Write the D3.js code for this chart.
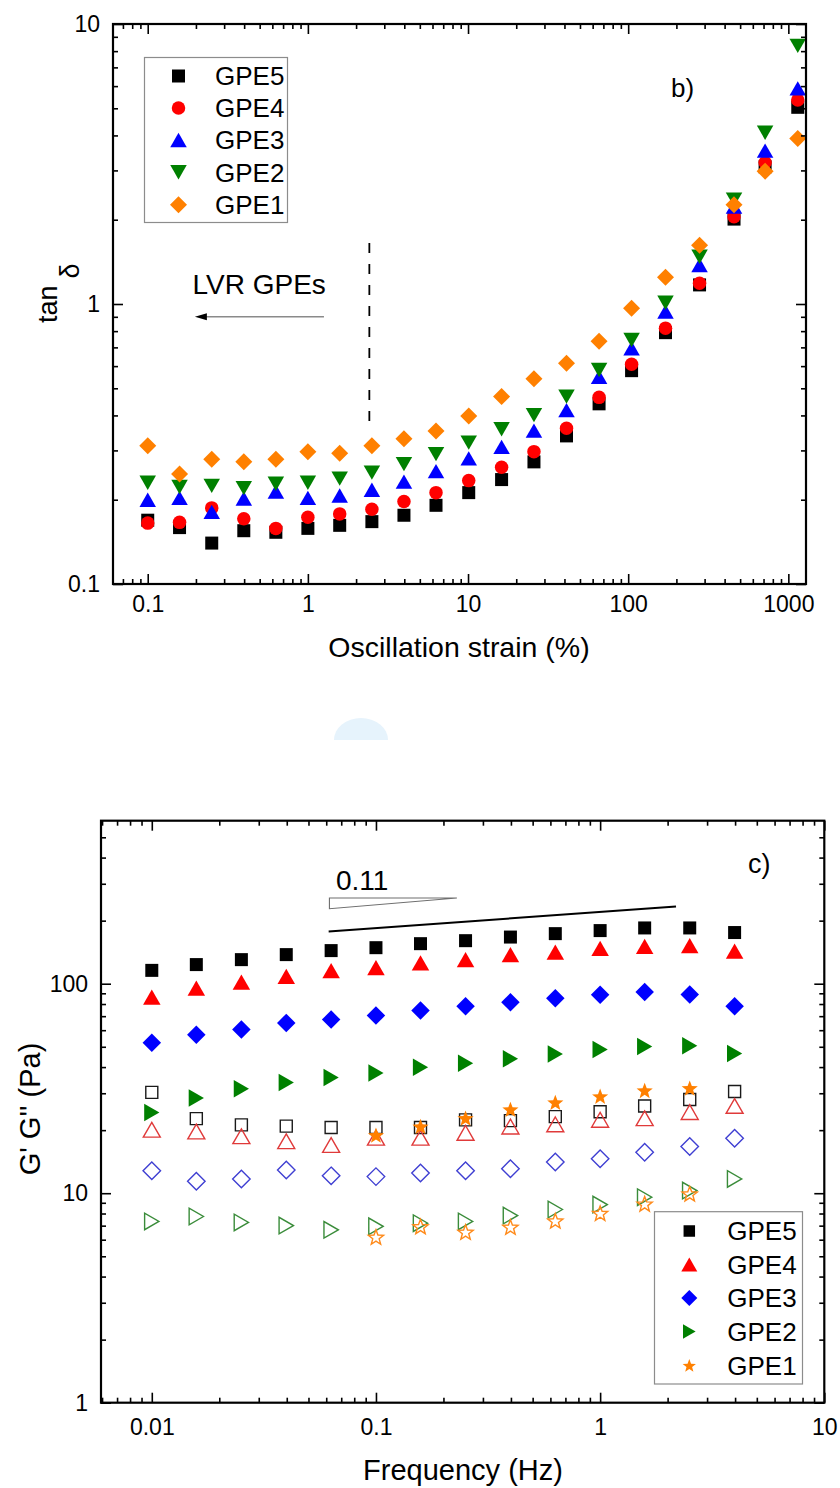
<!DOCTYPE html>
<html>
<head>
<meta charset="utf-8">
<script src="https://cdn.jsdelivr.net/npm/d3@7"></script>
<style>
  html, body { margin: 0; padding: 0; background: #fff; }
  svg { display: block; }
  text { font-family: "Liberation Sans", Arial, sans-serif; fill: #000; }
</style>
</head>
<body>
<svg id="chart" width="840" height="1488"></svg>
<script>
// ---------------- DATA ----------------
// Panel b) : tan(delta) vs oscillation strain (%)
const strain = [0.1, 0.158, 0.251, 0.398, 0.631, 1, 1.58, 2.51, 3.98, 6.31, 10.1, 16.2, 25.8, 41.2, 65.8, 105, 171, 279, 458, 716, 1145];
const tanGPE5 = [0.169, 0.159, 0.140, 0.155, 0.153, 0.158, 0.162, 0.167, 0.176, 0.191, 0.212, 0.236, 0.273, 0.338, 0.440, 0.578, 0.79, 1.17, 2.01, 3.09, 5.04];
const tanGPE4 = [0.165, 0.166, 0.187, 0.171, 0.158, 0.173, 0.178, 0.185, 0.197, 0.212, 0.234, 0.261, 0.297, 0.360, 0.464, 0.609, 0.82, 1.186, 2.05, 3.20, 5.35];
const tanGPE3 = [0.200, 0.203, 0.181, 0.202, 0.214, 0.203, 0.207, 0.217, 0.232, 0.253, 0.281, 0.309, 0.353, 0.418, 0.550, 0.695, 0.94, 1.378, 2.23, 3.53, 5.89];
const tanGPE2 = [0.230, 0.222, 0.224, 0.220, 0.228, 0.230, 0.238, 0.250, 0.268, 0.291, 0.320, 0.357, 0.401, 0.467, 0.581, 0.744, 1.01, 1.475, 2.36, 4.09, 8.35];
const tanGPE1 = [0.312, 0.247, 0.279, 0.273, 0.279, 0.297, 0.293, 0.312, 0.330, 0.352, 0.398, 0.467, 0.541, 0.614, 0.736, 0.965, 1.245, 1.62, 2.26, 2.98, 3.90];
const strainTicks = [0.1, 1, 10, 100, 1000];
const tanTicks = [0.1, 1, 10];
const lvrLine = [[2.42, 1.65], [2.42, 0.365]];   // dashed LVR limit
const lvrArrow = [[1.26, 0.90], [0.197, 0.90]];  // arrow "LVR GPEs"

// Panel c) : G' (filled) and G'' (open) vs frequency (Hz)
const freq = [0.01, 0.0158, 0.0251, 0.0398, 0.0631, 0.1, 0.158, 0.251, 0.398, 0.631, 1, 1.58, 2.51, 3.98];
const freqGPE1 = [0.1, 0.158, 0.251, 0.398, 0.631, 1, 1.58, 2.51];
const gPrimeGPE5 = [115.8, 123.4, 130.3, 137.7, 143.9, 148.6, 155.3, 160.5, 167, 173.4, 179.3, 184.6, 184.6, 175.5];
const gPrimeGPE4 = [86.3, 95.3, 101.8, 108.4, 115.4, 119.3, 125.6, 130.3, 137.7, 141.6, 147.5, 150.7, 152, 143.2];
const gPrimeGPE3 = [52.3, 57, 60.4, 65, 67.4, 70.5, 74.5, 78.1, 81.6, 85.3, 88.5, 91.2, 88.9, 78.1];
const gPrimeGPE2 = [24.3, 28.5, 31.5, 33.8, 35.7, 37.5, 39.9, 41.7, 43.8, 46.2, 48.5, 50.1, 50.5, 46.5];
const gPrimeGPE1 = [18.9, 20.8, 22.8, 25.1, 27.1, 29.0, 30.9, 31.7];
const gDoubleGPE5 = [30.3, 22.7, 21.2, 20.9, 20.6, 20.6, 20.6, 22.4, 22.2, 23.2, 24.5, 26.1, 28.0, 30.6];
const gDoubleGPE4 = [20.1, 19.7, 18.7, 17.7, 17.0, 18.4, 18.4, 19.4, 20.8, 21.3, 22.4, 22.8, 24.4, 26.1];
const gDoubleGPE3 = [12.8, 11.4, 11.7, 12.9, 12.1, 12.0, 12.5, 12.8, 13.1, 14.1, 14.6, 15.7, 16.7, 18.3];
const gDoubleGPE2 = [7.33, 7.74, 7.25, 7.01, 6.69, 6.95, 7.19, 7.33, 7.82, 8.36, 8.83, 9.57, 10.3, 11.7];
const gDoubleGPE1 = [6.17, 6.93, 6.52, 6.89, 7.38, 8.02, 8.89, 9.93];
const freqTicks = [0.01, 0.1, 1, 10];
const modTicks = [1, 10, 100];
const slopeLine = [[0.0615, 177.6], [2.18, 233.8]];
const slopeTriangle = [[0.062, 256.6], [0.062, 228], [0.2296, 256.6]];

const seriesNames = ["GPE5", "GPE4", "GPE3", "GPE2", "GPE1"];

// ---------------- HELPERS ----------------
const FONT = '"Liberation Sans", Arial, sans-serif';
const svg = d3.select("#chart");

function shape(type, s) {
  const h = s / 2;
  switch (type) {
    case "square": return `M${-h},${-h}H${h}V${h}H${-h}Z`;
    case "circle": return `M${h},0A${h},${h} 0 1,1 ${-h},0A${h},${h} 0 1,1 ${h},0Z`;
    case "triUp": { const t = s * 0.87 / 2; return `M0,${-t}L${h},${t}L${-h},${t}Z`; }
    case "triDown": { const t = s * 0.87 / 2; return `M0,${t}L${h},${-t}L${-h},${-t}Z`; }
    case "triRight": { const t = s * 0.87 / 2; return `M${t},0L${-t},${h}L${-t},${-h}Z`; }
    case "diamond": return `M0,${-h}L${h},0L0,${h}L${-h},0Z`;
    case "star": {
      const R = h, r = h * 0.42; let p = "";
      for (let i = 0; i < 10; i++) {
        const a = -Math.PI / 2 + i * Math.PI / 5, rr = i % 2 ? r : R;
        p += (i ? "L" : "M") + (rr * Math.cos(a)).toFixed(2) + "," + (rr * Math.sin(a) + h * 0.08).toFixed(2);
      }
      return p + "Z";
    }
  }
}

function minors(domain) {
  const out = [];
  for (let e = -4; e <= 4; e++) for (let k = 2; k <= 9; k++) {
    const v = k * Math.pow(10, e);
    if (v > domain[0] && v < domain[1] * 0.985) out.push(v);
  }
  return out;
}

function fmt(v) { return v >= 1 ? String(Math.round(v)) : String(+v.toPrecision(1)); }

function frameAxes(x, y, xMaj, yMaj, xPad, yPad) {
  const [x0, x1] = x.range(), [y0, y1] = y.range();
  const xMin = minors(x.domain()), yMin = minors(y.domain());
  const style = g => {
    g.select(".domain").remove();
    g.selectAll("line").attr("stroke", "#000").attr("stroke-width", 1.6);
    g.selectAll("text").attr("font-size", 23).attr("font-family", FONT).attr("fill", "#000");
  };
  // bottom
  svg.append("g").attr("transform", `translate(0,${y0})`)
    .call(d3.axisBottom(x).tickValues(xMaj).tickSize(-10).tickSizeOuter(0).tickPadding(xPad).tickFormat(fmt)).call(style);
  svg.append("g").attr("transform", `translate(0,${y0})`)
    .call(d3.axisBottom(x).tickValues(xMin).tickSize(-5).tickSizeOuter(0).tickFormat("")).call(style);
  // top
  svg.append("g").attr("transform", `translate(0,${y1})`)
    .call(d3.axisTop(x).tickValues(xMaj).tickSize(-10).tickSizeOuter(0).tickFormat("")).call(style);
  svg.append("g").attr("transform", `translate(0,${y1})`)
    .call(d3.axisTop(x).tickValues(xMin).tickSize(-5).tickSizeOuter(0).tickFormat("")).call(style);
  // left
  svg.append("g").attr("transform", `translate(${x0},0)`)
    .call(d3.axisLeft(y).tickValues(yMaj).tickSize(-10).tickSizeOuter(0).tickPadding(yPad).tickFormat(fmt)).call(style);
  svg.append("g").attr("transform", `translate(${x0},0)`)
    .call(d3.axisLeft(y).tickValues(yMin).tickSize(-5).tickSizeOuter(0).tickFormat("")).call(style);
  // right
  svg.append("g").attr("transform", `translate(${x1},0)`)
    .call(d3.axisRight(y).tickValues(yMaj).tickSize(-10).tickSizeOuter(0).tickFormat("")).call(style);
  svg.append("g").attr("transform", `translate(${x1},0)`)
    .call(d3.axisRight(y).tickValues(yMin).tickSize(-5).tickSizeOuter(0).tickFormat("")).call(style);
  // frame
  svg.append("rect").attr("x", x0).attr("y", y1).attr("width", x1 - x0).attr("height", y0 - y1)
    .attr("fill", "none").attr("stroke", "#000").attr("stroke-width", 2.2);
}

function plotSeries(g, x, y, xs, ys, type, size, fill, stroke, sw) {
  g.append("g").selectAll("path")
    .data(xs.map((v, i) => [v, ys[i]]))
    .join("path")
    .attr("transform", d => `translate(${x(d[0])},${y(d[1])})`)
    .attr("d", shape(type, size))
    .attr("fill", fill)
    .attr("stroke", stroke || "none")
    .attr("stroke-width", sw || 0);
}

// faint watermark blob between panels
svg.append("path").attr("d", "M334,740 A27,22 0 0 1 388,740 Z").attr("fill", "#e6f3fc");

// ---------------- PANEL b) ----------------
const xB = d3.scaleLog().domain([0.0607, 1289]).range([113, 806]);
const yB = d3.scaleLog().domain([0.1, 10]).range([584, 24]);

const colB = { GPE5: "#000000", GPE4: "#ff0000", GPE3: "#0000ff", GPE2: "#008000", GPE1: "#ff8000" };
const shpB = { GPE5: ["square", 13], GPE4: ["circle", 13.5], GPE3: ["triUp", 16.5], GPE2: ["triDown", 16.5], GPE1: ["diamond", 17] };
const tanData = { GPE5: tanGPE5, GPE4: tanGPE4, GPE3: tanGPE3, GPE2: tanGPE2, GPE1: tanGPE1 };

// dashed line
svg.append("line")
  .attr("x1", xB(lvrLine[0][0])).attr("y1", yB(lvrLine[0][1]))
  .attr("x2", xB(lvrLine[1][0])).attr("y2", yB(lvrLine[1][1]))
  .attr("stroke", "#000").attr("stroke-width", 1.8).attr("stroke-dasharray", "10,11");

// arrow
svg.append("line")
  .attr("x1", xB(lvrArrow[0][0])).attr("y1", yB(lvrArrow[0][1]))
  .attr("x2", xB(lvrArrow[1][0]) + 8).attr("y2", yB(lvrArrow[1][1]))
  .attr("stroke", "#8a8a8a").attr("stroke-width", 1.5);
{
  const ax = xB(lvrArrow[1][0]), ay = yB(lvrArrow[1][1]);
  svg.append("path").attr("d", `M${ax},${ay}L${ax + 12},${ay - 3.5}L${ax + 12},${ay + 3.5}Z`).attr("fill", "#000");
}
svg.append("text").attr("x", 192.5).attr("y", 294).attr("font-size", 28).text("LVR GPEs");
svg.append("text").attr("x", 671).attr("y", 97).attr("font-size", 26).text("b)");

const gB = svg.append("g");
seriesNames.forEach(n => plotSeries(gB, xB, yB, strain, tanData[n], shpB[n][0], shpB[n][1], colB[n]));

frameAxes(xB, yB, strainTicks, tanTicks, 12, 13);

// legend b
svg.append("rect").attr("x", 144.5).attr("y", 57.5).attr("width", 143).attr("height", 165)
  .attr("fill", "none").attr("stroke", "#8c8c8c").attr("stroke-width", 1.2);
const legB = [76, 108, 140, 172.3, 204.7];
seriesNames.forEach((n, i) => {
  svg.append("path").attr("transform", `translate(178.5,${legB[i]})`).attr("d", shape(shpB[n][0], shpB[n][1])).attr("fill", colB[n]);
  svg.append("text").attr("x", 215).attr("y", legB[i]).attr("dy", "0.36em").attr("font-size", 26).text(n);
});

// axis titles b
svg.append("text").attr("x", 459).attr("y", 657).attr("text-anchor", "middle").attr("font-size", 28.5).text("Oscillation strain (%)");
{
  const t = svg.append("text").attr("transform", "translate(57,323) rotate(-90)").attr("font-size", 27);
  t.append("tspan").text("tan");
  t.append("tspan").attr("dx", 7).attr("dy", 22).text("δ");
}

// ---------------- PANEL c) ----------------
const xC = d3.scaleLog().domain([0.005935, 10]).range([101, 824.3]);
const yC = d3.scaleLog().domain([1, 600]).range([1402.7, 820.7]);

// slope annotation
svg.append("path")
  .attr("d", d3.line().x(d => xC(d[0])).y(d => yC(d[1]))(slopeTriangle) + "Z")
  .attr("fill", "none").attr("stroke", "#6e6e6e").attr("stroke-width", 1.1);
svg.append("line")
  .attr("x1", xC(slopeLine[0][0])).attr("y1", yC(slopeLine[0][1]))
  .attr("x2", xC(slopeLine[1][0])).attr("y2", yC(slopeLine[1][1]))
  .attr("stroke", "#000").attr("stroke-width", 2);
svg.append("text").attr("x", 336).attr("y", 890).attr("font-size", 28).text("0.11");
svg.append("text").attr("x", 748).attr("y", 873).attr("font-size", 27).text("c)");

const colC = { GPE5: "#000000", GPE4: "#ff0000", GPE3: "#0000ff", GPE2: "#008000", GPE1: "#ff8000" };
const colOpen = { GPE5: "#1a1a1a", GPE4: "#e03a3a", GPE3: "#3f3fd2", GPE2: "#3a8c3a", GPE1: "#ff8a1a" };
const shpC = { GPE5: ["square", 13], GPE4: ["triUp", 17.5], GPE3: ["diamond", 18.5], GPE2: ["triRight", 17.5], GPE1: ["star", 17] };
const shpOpen = { GPE5: ["square", 12], GPE4: ["triUp", 17], GPE3: ["diamond", 17.5], GPE2: ["triRight", 16.5], GPE1: ["star", 16] };
const gpData = { GPE5: [freq, gPrimeGPE5], GPE4: [freq, gPrimeGPE4], GPE3: [freq, gPrimeGPE3], GPE2: [freq, gPrimeGPE2], GPE1: [freqGPE1, gPrimeGPE1] };
const gppData = { GPE5: [freq, gDoubleGPE5], GPE4: [freq, gDoubleGPE4], GPE3: [freq, gDoubleGPE3], GPE2: [freq, gDoubleGPE2], GPE1: [freqGPE1, gDoubleGPE1] };

const gC = svg.append("g");
seriesNames.forEach(n => plotSeries(gC, xC, yC, gppData[n][0], gppData[n][1], shpOpen[n][0], shpOpen[n][1], "none", colOpen[n], 1.4));
seriesNames.forEach(n => plotSeries(gC, xC, yC, gpData[n][0], gpData[n][1], shpC[n][0], shpC[n][1], colC[n]));

frameAxes(xC, yC, freqTicks, modTicks, 16, 13);

// legend c
svg.append("rect").attr("x", 654.5).attr("y", 1211.7).attr("width", 148).attr("height", 172.3)
  .attr("fill", "#fff").attr("stroke", "#8c8c8c").attr("stroke-width", 1.2);
const legC = [1231, 1264.5, 1298, 1331.5, 1365.5];
const legSize = { GPE5: 11.5, GPE4: 16, GPE3: 16, GPE2: 14.5, GPE1: 14 };
seriesNames.forEach((n, i) => {
  svg.append("path").attr("transform", `translate(689.3,${legC[i]})`).attr("d", shape(shpC[n][0], legSize[n])).attr("fill", colC[n]);
  svg.append("text").attr("x", 727.3).attr("y", legC[i]).attr("dy", "0.36em").attr("font-size", 26).text(n);
});

// axis titles c
svg.append("text").attr("x", 463).attr("y", 1480).attr("text-anchor", "middle").attr("font-size", 29).text("Frequency (Hz)");
svg.append("text").attr("transform", "translate(40,1109) rotate(-90)").attr("text-anchor", "middle").attr("font-size", 29).text("G' G'' (Pa)");
</script>
</body>
</html>
